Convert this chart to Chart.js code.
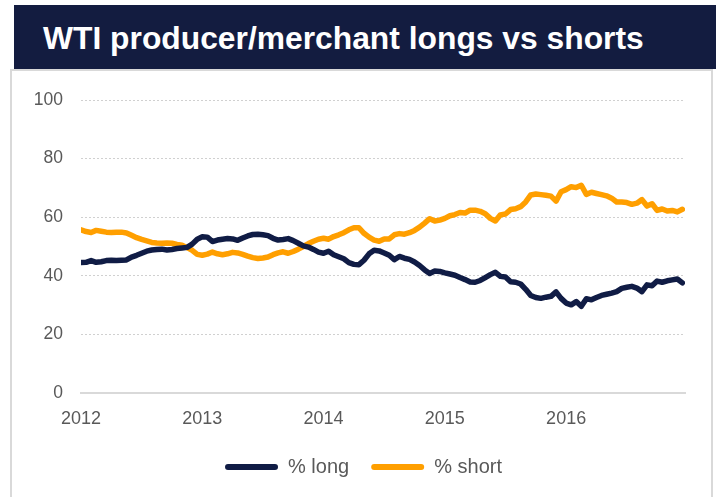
<!DOCTYPE html>
<html>
<head>
<meta charset="utf-8">
<script src="https://cdn.jsdelivr.net/npm/chart.js@4"></script>
<style>
  body { margin: 0; background: #fff; width: 726px; height: 497px; overflow: hidden; position: relative; font-family: "Liberation Sans", Arial, sans-serif; }
  #title { position: absolute; left: 14px; top: 5px; width: 702px; height: 64px; background: #131c40; color: #fff;
           font-weight: bold; font-size: 31.8px; line-height: 66px; padding-left: 29px; box-sizing: border-box; }
  #panel { position: absolute; left: 10px; top: 69px; width: 703px; height: 440px; border: 2px solid #d9d9d9; box-sizing: border-box; }
  #wrap { position: absolute; left: 12px; top: 71px; width: 699px; height: 426px; }
</style>
</head>
<body>
<div id="title">WTI producer/merchant longs vs shorts</div>
<div id="panel"></div>
<div id="wrap"><canvas id="myChart"></canvas></div>
<script>
// half-monthly readings, Jan 2012 - Dec 2016
var pctLong = [
  44.5, 44.6, 45.2, 44.6, 44.8, 45.2, 45.3, 45.2, 45.3, 45.4, 46.4, 47.0, 47.7, 48.4, 48.8, 49.0, 49.1, 48.8, 49.0, 49.3, 49.5, 49.7, 50.8, 52.5,
  53.3, 53.2, 51.7, 52.2, 52.5, 52.7, 52.6, 52.1, 52.9, 53.6, 54.1, 54.2, 54.0, 53.7, 52.8, 52.2, 52.4, 52.7, 52.0, 51.1, 50.2, 49.8, 49.0, 48.1,
  47.7, 48.4, 47.2, 46.5, 45.8, 44.5, 43.9, 43.8, 45.3, 47.5, 48.7, 48.5, 47.8, 47.0, 45.5, 46.6, 46.0, 45.6, 44.7, 43.5, 42.0, 40.8, 41.6, 41.5,
  41.0, 40.6, 40.2, 39.4, 38.7, 37.9, 37.8, 38.4, 39.4, 40.4, 41.2, 39.8, 39.6, 38.0, 37.8, 37.2, 35.4, 33.3, 32.6, 32.3, 32.7, 33.0, 34.5, 32.3,
  30.7, 30.1, 31.2, 29.6, 32.2, 31.8, 32.6, 33.3, 33.7, 34.1, 34.6, 35.7, 36.1, 36.4, 35.8, 34.6, 36.9, 36.6, 38.2, 37.8, 38.3, 38.6, 38.9, 37.6
];
var pctShort = [
  55.7, 55.1, 54.8, 55.5, 55.2, 54.9, 54.8, 54.9, 54.9, 54.6, 53.8, 53.0, 52.4, 51.9, 51.4, 51.2, 51.1, 51.2, 51.1, 50.7, 50.4, 49.6, 48.7, 47.3,
  47.0, 47.4, 48.1, 47.5, 47.2, 47.5, 48.0, 47.8, 47.3, 46.7, 46.2, 45.9, 46.1, 46.4, 47.2, 47.8, 48.2, 47.7, 48.3, 49.1, 50.0, 51.0, 51.8, 52.5,
  52.8, 52.5, 53.4, 54.0, 54.7, 55.7, 56.4, 56.4, 54.5, 53.2, 52.2, 51.8, 52.6, 52.6, 54.0, 54.4, 54.2, 54.7, 55.5, 56.6, 58.0, 59.5, 58.7, 59.0,
  59.6, 60.5, 60.9, 61.6, 61.4, 62.4, 62.4, 62.0, 61.2, 59.6, 58.7, 60.8, 61.1, 62.6, 62.9, 63.6, 65.2, 67.6, 67.9, 67.7, 67.5, 67.2, 65.5, 68.7,
  69.4, 70.4, 70.1, 70.9, 67.8, 68.5, 68.1, 67.7, 67.3, 66.5, 65.2, 65.2, 65.0, 64.4, 64.8, 66.0, 63.8, 64.6, 62.3, 62.8, 62.1, 62.3, 61.8, 62.7
];
var yearTicks = [2012, 2013, 2014, 2015, 2016];

// dates as decimal years, two per month
var dates = [];
for (var i = 0; i < pctLong.length; i++) {
    dates.push(2012 + i / 24);
}

function toPoints(values) {
    return values.map(function (v, i) { return { x: dates[i], y: v }; });
}

Chart.defaults.font.family = '"Liberation Sans", Arial, sans-serif';
Chart.defaults.color = '#595959';

// legend sits a bit right of the plot centre in the original
var legendShift = {
    id: 'legendShift',
    afterLayout: function (chart) {
        chart.legend.left += 15;
        chart.legend.right += 15;
    }
};

var ctx = document.getElementById('myChart').getContext('2d');
var myChart = new Chart(ctx, {
    type: 'line',
    data: {
        datasets: [{
            label: '% long',
            data: toPoints(pctLong),
            borderColor: '#101c45',
            backgroundColor: '#101c45',
            borderWidth: 5.5,
            pointRadius: 0,
            borderJoinStyle: 'round',
            borderCapStyle: 'round'
        }, {
            label: '% short',
            data: toPoints(pctShort),
            borderColor: '#ff9f00',
            backgroundColor: '#ff9f00',
            borderWidth: 5.5,
            pointRadius: 0,
            borderJoinStyle: 'round',
            borderCapStyle: 'round'
        }]
    },
    plugins: [legendShift],
    options: {
        responsive: true,
        maintainAspectRatio: false,
        animation: false,
        layout: { padding: { top: 29, right: 26, bottom: 10, left: 0 } },
        scales: {
            x: {
                type: 'linear',
                min: 2012,
                max: 2016.98,
                afterBuildTicks: function (scale) {
                    scale.ticks = yearTicks.map(function (y) { return { value: y }; });
                },
                afterFit: function (scale) { scale.height = 42; },
                grid: { display: false, drawTicks: false },
                border: { display: true, color: '#d9d9d9', width: 2 },
                ticks: {
                    padding: 15,
                    font: { size: 18 },
                    maxRotation: 0,
                    autoSkip: false,
                    callback: function (v) { return String(v); }
                }
            },
            y: {
                min: 0,
                max: 100,
                afterFit: function (scale) { scale.width = 69; },
                grid: { color: '#d0d0d0', lineWidth: 1, drawTicks: false },
                border: { display: false, dash: [2, 2] },
                ticks: { stepSize: 20, padding: 18, font: { size: 17.5 } }
            }
        },
        plugins: {
            tooltip: { enabled: false },
            legend: {
                position: 'bottom',
                labels: {
                    boxWidth: 53,
                    boxHeight: 6,
                    useBorderRadius: true,
                    borderRadius: 3,
                    padding: 22,
                    font: { size: 20 },
                    generateLabels: function (chart) {
                        var items = Chart.defaults.plugins.legend.labels.generateLabels(chart);
                        items.forEach(function (it) { it.lineWidth = 0; });
                        return items;
                    }
                }
            }
        }
    }
});
</script>
</body>
</html>
